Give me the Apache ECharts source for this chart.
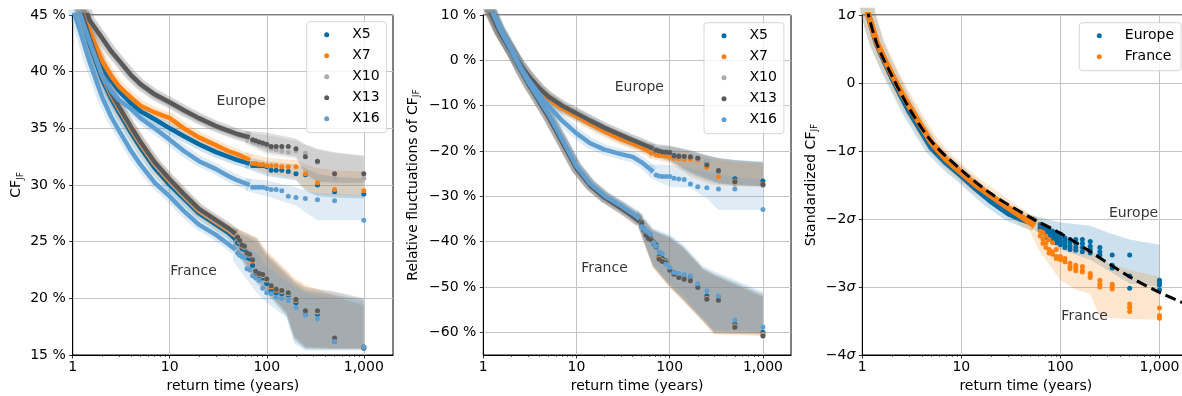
<!DOCTYPE html>
<html>
<head>
<meta charset="utf-8">
<script src="https://cdn.jsdelivr.net/npm/echarts@6/dist/echarts.min.js"></script>
<style>html,body{margin:0;padding:0;background:#fff}#chart{width:1182px;height:396px}</style>
</head>
<body>
<div id="chart"></div>
<script>
const FONT = 'DejaVu Sans';
const models = ['X5', 'X7', 'X10', 'X13', 'X16'];
const modelColors = ['#006BA4', '#FF800E', '#ABABAB', '#595959', '#5F9ED1'];
const xTicks = [1, 10, 100, 1000];
const xMinorTicks = [2, 3, 4, 5, 6, 7, 8, 9, 20, 30, 40, 50, 60, 70, 80, 90, 200, 300, 400, 500, 600, 700, 800, 900];
const yTicksRel = [-60, -50, -40, -30, -20, -10, 0, 10];

// return times (years): dense start of each curve, then single-year tail points
const tDenseEu = [1, 1.2, 1.5, 2, 2.5, 3, 4, 5, 7, 10, 14, 20, 30, 40, 50, 66.7];
const tDenseFr = [1, 1.2, 1.5, 2, 2.5, 3, 4, 5, 7, 10, 14, 20, 30, 40, 47.6];
const tTailEu = [71.4, 76.9, 83.3, 90.9, 100, 111.1, 125, 142.9, 166.7, 200, 250, 333.3, 500, 1000];
const tTailFr = [50, 52.6, 55.6, 58.8, 62.5, 66.7, 71.4, 76.9, 83.3, 90.9, 100, 111.1, 125, 142.9, 166.7, 200, 250, 333.3, 500, 1000];
const tBandEu = [60, 100, 200, 250, 333.3, 500, 1000];
const tBandFr = [45, 79, 100, 160, 192, 250, 500, 1000];

// ---- left panel: CF_JF in %
const cfEuX5 = [48, 46, 43.3, 40.6, 39.2, 38.3, 37.2, 36.5, 35.8, 35.0, 34.3, 33.6, 32.9, 32.5, 32.2, 31.9];
const cfEuX7 = [48, 46, 43.5, 41.0, 39.6, 38.7, 37.7, 37.0, 36.4, 35.9, 35.0, 34.2, 33.5, 33.0, 32.7, 32.2];
const cfEuX10 = [49, 46.8, 44.4, 42.9, 41.7, 40.9, 39.6, 38.8, 37.9, 37.2, 36.5, 35.8, 35.1, 34.7, 34.4, 34.1];
const cfEuX13 = [49, 47, 44.5, 43.0, 41.8, 41.0, 39.7, 38.9, 38.0, 37.3, 36.6, 35.9, 35.2, 34.8, 34.5, 34.2];
const cfEuX16 = [47, 45, 42.6, 39.7, 38.3, 37.5, 36.7, 35.9, 35.0, 34.0, 33.0, 32.1, 31.4, 30.8, 30.4, 30.0];
const cfEuTailX5 = [31.7, 31.7, 31.7, 31.7, 31.6, 31.3, 31.3, 31.3, 31.2, 31.0, 30.9, 30.0, 29.4, 29.2];
const cfEuTailX7 = [31.9, 31.9, 31.8, 31.8, 31.7, 31.7, 31.7, 31.6, 31.6, 31.6, 31.0, 30.2, 29.6, 29.5];
const cfEuTailX10 = [33.8, 33.7, 33.6, 33.5, 33.4, 33.2, 33.1, 33.0, 32.9, 33.0, 32.8, 32.0, 30.6, 30.6];
const cfEuTailX13 = [34.0, 33.9, 33.8, 33.7, 33.6, 33.4, 33.4, 33.4, 33.4, 33.2, 32.5, 32.1, 31.0, 31.0];
const cfEuTailX16 = [29.8, 29.8, 29.8, 29.8, 29.7, 29.6, 29.6, 29.5, 29.0, 28.9, 28.8, 28.7, 28.6, 26.9];
const cfFrX5 = [48, 45.2, 42.4, 39.4, 37.6, 36.4, 34.6, 33.3, 31.5, 30.0, 28.8, 27.5, 26.5, 25.8, 25.2];
const cfFrX7 = [48, 45.4, 42.7, 39.7, 37.9, 36.7, 34.9, 33.6, 31.8, 30.3, 29.0, 27.7, 26.7, 26.0, 25.5];
const cfFrX10 = [48, 45.5, 42.8, 39.8, 38.0, 36.8, 35.0, 33.7, 31.9, 30.4, 29.1, 27.8, 26.8, 26.1, 25.6];
const cfFrX13 = [48.2, 45.6, 42.9, 39.9, 38.1, 36.9, 35.1, 33.8, 32.0, 30.5, 29.2, 27.9, 26.9, 26.2, 25.7];
const cfFrX16 = [45.6, 43.5, 40.8, 37.8, 36.0, 34.8, 33.0, 31.8, 30.2, 29.0, 27.7, 26.5, 25.6, 24.8, 24.3];
const cfFrTailX5 = [24.9, 24.8, 24.4, 24.3, 23.6, 23.5, 22.9, 22.2, 21.9, 21.8, 21.3, 20.7, 20.5, 20.4, 20.3, 19.6, 18.6, 18.6, 16.2, 15.6];
const cfFrTailX7 = [25.4, 25.0, 24.6, 24.5, 23.9, 23.8, 23.3, 22.3, 22.1, 22.0, 21.7, 21.0, 20.7, 20.6, 20.4, 19.8, 18.8, 18.8, 16.4, 15.7];
const cfFrTailX10 = [25.4, 25.0, 24.7, 24.5, 24.0, 23.8, 23.4, 22.4, 22.2, 22.0, 21.6, 21.1, 20.8, 20.6, 20.4, 19.9, 18.9, 18.8, 16.5, 15.7];
const cfFrTailX13 = [25.4, 25.1, 24.7, 24.6, 24.0, 23.9, 23.4, 22.4, 22.2, 22.1, 21.7, 21.1, 20.8, 20.7, 20.5, 19.9, 18.9, 18.9, 16.5, 15.7];
const cfFrTailX16 = [24.0, 23.8, 23.7, 23.6, 22.6, 22.5, 22.0, 21.8, 21.6, 20.9, 20.5, 20.4, 20.1, 20.0, 19.8, 19.2, 18.5, 18.2, 16.2, 15.7];
// spread between members (lower / upper edge)
const cfBandEuLoX5 = [31.5, 30.8, 30.4, 29.5, 29.0, 28.9, 28.8];
const cfBandEuHiX5 = [32.5, 32.1, 31.8, 31.5, 31.0, 30.7, 30.6];
const cfBandEuLoX7 = [31.9, 31.0, 30.6, 29.6, 29.2, 29.1, 29.0];
const cfBandEuHiX7 = [32.9, 32.4, 32.2, 31.8, 31.5, 31.3, 31.2];
const cfBandEuLoX10 = [33.6, 32.7, 32.3, 30.8, 30.1, 30.0, 30.0];
const cfBandEuHiX10 = [34.6, 34.4, 33.9, 33.5, 33.1, 32.8, 32.5];
const cfBandEuLoX13 = [33.8, 32.9, 32.5, 31.0, 30.3, 30.2, 30.2];
const cfBandEuHiX13 = [34.8, 34.6, 34.1, 33.6, 33.2, 32.9, 32.6];
const cfBandEuLoX16 = [29.5, 29.0, 28.2, 27.6, 26.9, 26.9, 26.9];
const cfBandEuHiX16 = [30.6, 30.4, 29.8, 29.5, 29.3, 29.2, 29.1];
const cfBandFrLoX5 = [24.4, 21.3, 20.4, 18.4, 16.3, 15.5, 15.5, 15.5];
const cfBandFrHiX5 = [26.0, 25.0, 23.7, 22.0, 21.3, 20.7, 20.3, 19.8];
const cfBandFrLoX7 = [24.6, 21.5, 20.6, 18.6, 16.5, 15.6, 15.5, 15.5];
const cfBandFrHiX7 = [26.3, 25.4, 24.2, 22.5, 21.8, 21.2, 20.2, 19.3];
const cfBandFrLoX10 = [24.7, 21.7, 20.8, 18.8, 16.7, 15.7, 15.6, 15.6];
const cfBandFrHiX10 = [26.2, 25.2, 23.9, 22.2, 21.5, 20.9, 20.5, 19.9];
const cfBandFrLoX13 = [24.7, 21.6, 20.7, 18.7, 16.6, 15.7, 15.6, 15.6];
const cfBandFrHiX13 = [26.3, 25.3, 24.0, 22.3, 21.6, 21.0, 20.6, 20.0];
const cfBandFrLoX16 = [23.3, 20.5, 19.6, 18.3, 16.0, 15.4, 15.4, 15.4];
const cfBandFrHiX16 = [25.2, 24.0, 22.8, 21.5, 21.0, 20.5, 20.0, 19.5];

// ---- middle panel: relative fluctuations in %
const tBandRelEu = [60, 100, 165, 250, 333.3, 500, 1000];
const tBandRelFr = [45, 66, 100, 140, 228, 300, 1000];
const relEuX5 = [14, 10.4, 6.2, 2.0, -1.1, -3.3, -6.4, -8.3, -10.4, -12.0, -13.6, -15.3, -17.0, -18.0, -18.8, -20.0];
const relEuX7 = [14, 10.4, 6.2, 2.0, -1.2, -3.5, -6.6, -8.5, -10.6, -12.3, -14.0, -15.7, -17.4, -18.4, -19.2, -20.6];
const relEuX10 = [14, 10.5, 6.3, 2.0, -1.0, -3.2, -6.2, -8.0, -10.0, -11.7, -13.3, -14.9, -16.5, -17.6, -18.4, -19.6];
const relEuX13 = [14, 10.5, 6.3, 2.0, -1.0, -3.2, -6.2, -8.0, -10.0, -11.7, -13.3, -14.9, -16.5, -17.6, -18.4, -19.5];
const relEuX16 = [15, 11.5, 7.0, 2.3, -1.5, -4.0, -7.5, -10.0, -13.3, -16.1, -18.3, -19.7, -20.7, -21.3, -22.5, -24.6];
const relEuTailX5 = [-20.3, -20.3, -20.3, -20.3, -20.4, -21.0, -21.1, -21.2, -21.3, -21.6, -22.4, -24.4, -26.1, -26.6];
const relEuTailX7 = [-20.9, -21.0, -21.0, -21.1, -21.3, -21.6, -21.7, -21.8, -21.8, -22.0, -23.6, -25.7, -26.6, -27.3];
const relEuTailX10 = [-19.9, -20.1, -20.3, -20.4, -20.5, -21.2, -21.3, -21.3, -21.4, -21.7, -22.3, -24.3, -27.3, -27.6];
const relEuTailX13 = [-19.8, -20.0, -20.2, -20.3, -20.4, -21.1, -21.2, -21.2, -21.3, -21.6, -23.1, -24.3, -26.8, -27.4];
const relEuTailX16 = [-25.3, -25.5, -25.6, -25.6, -25.6, -26.0, -26.2, -26.3, -27.3, -27.9, -28.1, -28.4, -28.4, -32.9];
const relFrX5 = [15, 11, 6.5, 2.0, -2.0, -4.9, -9.0, -12.3, -17.8, -23.7, -27.4, -30.1, -32.3, -34.0, -35.2];
const relFrX7 = [15, 11, 6.5, 2.0, -2.0, -5.0, -9.1, -12.4, -17.9, -23.8, -27.5, -30.2, -32.4, -34.2, -35.4];
const relFrX10 = [15, 11, 6.5, 2.0, -2.0, -5.0, -9.2, -12.5, -18.0, -23.9, -27.6, -30.3, -32.6, -34.4, -35.6];
const relFrX13 = [15, 11, 6.5, 2.0, -2.0, -5.0, -9.2, -12.5, -18.0, -23.9, -27.6, -30.3, -32.6, -34.4, -35.6];
const relFrX16 = [15.5, 11.5, 7.0, 2.3, -1.7, -4.6, -8.7, -11.9, -17.4, -23.4, -27.2, -29.9, -32.1, -33.8, -35.0];
const relFrTailX5 = [-35.7, -37.1, -38.2, -38.9, -39.2, -40.0, -40.7, -43.3, -43.7, -44.2, -45.9, -46.8, -47.5, -47.9, -48.2, -49.8, -52.0, -52.3, -58.2, -60.0];
const relFrTailX7 = [-35.9, -37.3, -38.4, -39.1, -39.4, -40.2, -41.0, -43.6, -44.1, -44.4, -46.1, -47.0, -47.7, -48.1, -48.4, -49.9, -52.5, -52.6, -58.6, -60.4];
const relFrTailX10 = [-36.0, -37.4, -38.5, -39.2, -39.5, -40.3, -41.1, -43.8, -44.3, -44.5, -46.2, -47.1, -47.8, -48.2, -48.5, -50.0, -52.6, -52.8, -58.8, -60.6];
const relFrTailX13 = [-36.0, -37.5, -38.6, -39.3, -39.6, -40.4, -41.2, -43.9, -44.4, -44.6, -46.3, -47.2, -47.9, -48.3, -48.6, -50.1, -52.7, -52.9, -58.9, -60.8];
const relFrTailX16 = [-36.7, -37.2, -37.6, -38.0, -38.3, -40.3, -41.0, -42.2, -42.6, -45.0, -45.7, -46.8, -47.0, -47.2, -47.5, -49.3, -50.9, -52.0, -57.3, -58.8];
const relBandEuLoX5 = [-21.0, -22.3, -25.0, -26.5, -27.2, -27.5, -27.7];
const relBandEuHiX5 = [-18.9, -19.0, -20.0, -21.0, -21.6, -22.0, -22.3];
const relBandEuLoX7 = [-21.6, -22.7, -25.7, -27.1, -27.6, -27.8, -27.9];
const relBandEuHiX7 = [-19.4, -19.6, -20.4, -21.4, -22.0, -22.4, -22.7];
const relBandEuLoX10 = [-20.5, -22.2, -24.8, -26.3, -27.2, -27.6, -27.9];
const relBandEuHiX10 = [-18.4, -18.9, -19.9, -21.0, -21.6, -22.1, -22.6];
const relBandEuLoX13 = [-20.5, -22.0, -24.5, -26.0, -27.0, -27.5, -27.8];
const relBandEuHiX13 = [-18.3, -18.8, -19.8, -20.9, -21.5, -22.0, -22.5];
const relBandEuLoX16 = [-25.8, -27.9, -28.1, -30.5, -33.0, -33.0, -33.0];
const relBandEuHiX16 = [-23.0, -23.1, -23.8, -24.5, -25.0, -25.8, -26.4];
const relBandFrLoX5 = [-36.0, -45.3, -49.6, -52.6, -57.2, -59.8, -60.2];
const relBandFrHiX5 = [-33.2, -37.3, -38.8, -41.0, -45.8, -47.0, -51.5];
const relBandFrLoX7 = [-36.4, -45.8, -50.2, -53.2, -57.8, -60.5, -60.8];
const relBandFrHiX7 = [-33.4, -37.5, -39.0, -41.3, -46.0, -47.2, -51.8];
const relBandFrLoX10 = [-36.3, -45.6, -50.0, -53.0, -57.6, -60.3, -60.5];
const relBandFrHiX10 = [-33.5, -37.6, -39.1, -41.4, -46.1, -47.4, -52.0];
const relBandFrLoX13 = [-36.2, -45.5, -49.9, -52.9, -57.5, -60.2, -60.4];
const relBandFrHiX13 = [-33.5, -37.6, -39.2, -41.5, -46.2, -47.5, -52.2];
const relBandFrLoX16 = [-35.9, -44.8, -49.0, -52.0, -56.8, -59.5, -59.8];
const relBandFrHiX16 = [-32.8, -37.0, -38.4, -40.6, -45.3, -46.5, -51.0];

// ---- right panel: standardized CF_JF (sigma)
const tDenseStd = [1, 1.15, 1.4, 1.7, 2, 2.5, 3, 4, 5, 7, 10, 14, 20, 30, 40, 55];
const stdEu = [1.6, 1.0, 0.58, 0.3, 0.08, -0.2, -0.42, -0.72, -0.95, -1.17, -1.36, -1.55, -1.74, -1.92, -2.0, -2.07];
const stdFr = [1.6, 1.0, 0.6, 0.33, 0.12, -0.15, -0.35, -0.65, -0.88, -1.12, -1.32, -1.5, -1.66, -1.84, -1.96, -2.1];
const stdEuTailT = [62.5, 62.5, 62.5, 66.7, 66.7, 66.7, 71.4, 71.4, 71.4, 71.4, 76.9, 76.9, 76.9, 76.9, 83.3, 83.3, 83.3, 83.3,
  90.9, 90.9, 90.9, 90.9, 100, 100, 100, 100, 111.1, 111.1, 111.1, 111.1, 125, 125, 125, 125, 142.9, 142.9, 142.9, 142.9,
  166.7, 166.7, 166.7, 166.7, 200, 200, 200, 200, 250, 250, 250, 333.3, 333.3, 333.3, 500, 500, 500, 1000, 1000, 1000, 1000];
const stdEuTailV = [-2.08, -2.12, -2.15, -2.1, -2.15, -2.2, -2.12, -2.17, -2.22, -2.27, -2.15, -2.2, -2.25, -2.3, -2.18, -2.22, -2.28, -2.33,
  -2.2, -2.25, -2.3, -2.35, -2.22, -2.28, -2.33, -2.38, -2.28, -2.33, -2.38, -2.42, -2.3, -2.35, -2.4, -2.45, -2.3, -2.36, -2.42, -2.46,
  -2.3, -2.36, -2.42, -2.48, -2.33, -2.4, -2.45, -2.5, -2.42, -2.48, -2.53, -2.53, -2.68, -2.72, -2.53, -2.84, -3.02, -2.9, -2.94, -2.97, -3.04];
const stdFrTailT = [62.5, 62.5, 66.7, 66.7, 66.7, 71.4, 71.4, 71.4, 76.9, 76.9, 76.9, 83.3, 83.3, 83.3, 90.9, 90.9, 90.9, 100, 100,
  111.1, 111.1, 125, 125, 125, 142.9, 142.9, 142.9, 166.7, 166.7, 166.7, 200, 200, 200, 250, 250, 250, 333.3, 333.3, 333.3,
  500, 500, 500, 1000, 1000, 1000];
const stdFrTailV = [-2.18, -2.25, -2.2, -2.3, -2.36, -2.25, -2.35, -2.42, -2.3, -2.45, -2.5, -2.35, -2.48, -2.52, -2.45, -2.55, -2.58, -2.55, -2.6,
  -2.58, -2.63, -2.65, -2.7, -2.73, -2.68, -2.72, -2.76, -2.7, -2.75, -2.78, -2.8, -2.83, -2.86, -2.9, -2.96, -3.0, -2.96, -2.99, -3.03,
  -3.25, -3.3, -3.36, -3.31, -3.42, -3.46];
const tBandStdEu = [50, 60, 100, 200, 300, 500, 1000];
const stdBandEuLo = [-2.12, -2.2, -2.45, -2.6, -2.75, -2.95, -3.0];
const stdBandEuHi = [-1.95, -1.97, -2.05, -2.1, -2.2, -2.3, -2.38];
const tBandStdFr = [50, 60, 100, 150, 200, 250, 500, 1000];
const stdBandFrLo = [-2.2, -2.45, -2.9, -3.05, -3.1, -3.45, -3.47, -3.48];
const stdBandFrHi = [-1.95, -2.0, -2.2, -2.35, -2.45, -2.6, -2.75, -2.85];
const fitT = [1.1, 1.4, 2, 3, 5, 10, 20, 50, 100, 200, 500, 1000, 2000];
const fitV = [1.12, 0.58, 0.1, -0.38, -0.86, -1.28, -1.63, -1.98, -2.21, -2.48, -2.85, -3.08, -3.27];

// text annotations: [text, return time, value]
const notesCf = [['Europe', 30, 37.4], ['France', 10, 22.4]];
const notesRel = [['Europe', 25.4, -5.9], ['France', 11.1, -45.9]];
const notesStd = [['Europe', 305, -1.92], ['France', 101, -3.43]];

const cfEuDense = [cfEuX5, cfEuX7, cfEuX10, cfEuX13, cfEuX16];
const cfEuTail = [cfEuTailX5, cfEuTailX7, cfEuTailX10, cfEuTailX13, cfEuTailX16];
const cfFrDense = [cfFrX5, cfFrX7, cfFrX10, cfFrX13, cfFrX16];
const cfFrTail = [cfFrTailX5, cfFrTailX7, cfFrTailX10, cfFrTailX13, cfFrTailX16];
const cfBandEu = [[cfBandEuLoX5, cfBandEuHiX5], [cfBandEuLoX7, cfBandEuHiX7], [cfBandEuLoX10, cfBandEuHiX10], [cfBandEuLoX13, cfBandEuHiX13], [cfBandEuLoX16, cfBandEuHiX16]];
const cfBandFr = [[cfBandFrLoX5, cfBandFrHiX5], [cfBandFrLoX7, cfBandFrHiX7], [cfBandFrLoX10, cfBandFrHiX10], [cfBandFrLoX13, cfBandFrHiX13], [cfBandFrLoX16, cfBandFrHiX16]];
const relEuDense = [relEuX5, relEuX7, relEuX10, relEuX13, relEuX16];
const relEuTail = [relEuTailX5, relEuTailX7, relEuTailX10, relEuTailX13, relEuTailX16];
const relFrDense = [relFrX5, relFrX7, relFrX10, relFrX13, relFrX16];
const relFrTail = [relFrTailX5, relFrTailX7, relFrTailX10, relFrTailX13, relFrTailX16];
const relBandEu = [[relBandEuLoX5, relBandEuHiX5], [relBandEuLoX7, relBandEuHiX7], [relBandEuLoX10, relBandEuHiX10], [relBandEuLoX13, relBandEuHiX13], [relBandEuLoX16, relBandEuHiX16]];
const relBandFr = [[relBandFrLoX5, relBandFrHiX5], [relBandFrLoX7, relBandFrHiX7], [relBandFrLoX10, relBandFrHiX10], [relBandFrLoX13, relBandFrHiX13], [relBandFrLoX16, relBandFrHiX16]];

const series = [];
const pts = (ts, vs) => ts.map((t, i) => [t, vs[i]]);

// spread band: polygon through the upper edge and back along the lower edge
function addBand(g, key, color, ts, lo, hi) {
  series.push({
    type: 'custom', name: key, xAxisIndex: g, yAxisIndex: g, silent: true, z: 1,
    data: [[ts[0], lo[0]]],
    renderItem: (params, api) => {
      const up = ts.map((t, i) => api.coord([t, hi[i]]));
      const down = ts.map((t, i) => api.coord([t, lo[i]])).reverse();
      const cs = params.coordSys;
      return {
        type: 'polygon',
        shape: { points: up.concat(down) },
        style: { fill: color, opacity: 0.2 },
        clipPath: { type: 'rect', shape: { x: cs.x, y: cs.y, width: cs.width, height: cs.height } },
      };
    },
  });
}

function addCurve(g, name, color, tD, vD, tT, vT, w, dot) {
  series.push({
    type: 'line', name: name + '-spread', xAxisIndex: g, yAxisIndex: g, data: pts(tD, vD),
    symbol: 'none', silent: true, z: 1, lineStyle: { color: color, width: w * 2.4, opacity: 0.2 },
  });
  series.push({
    type: 'line', name: name + '-line', xAxisIndex: g, yAxisIndex: g, data: pts(tD, vD),
    symbol: 'none', silent: true, z: 3, lineStyle: { color: color, width: w }, itemStyle: { color: color },
  });
  series.push({
    type: 'scatter', name: name, xAxisIndex: g, yAxisIndex: g, data: pts(tT, vT),
    symbolSize: dot, silent: true, z: 3, itemStyle: { color: color, opacity: 1 },
  });
}

function addNotes(g, notes) {
  series.push({
    type: 'scatter', name: 'note' + g, xAxisIndex: g, yAxisIndex: g, symbolSize: 1, silent: true, z: 6,
    itemStyle: { color: 'rgba(0,0,0,0)' },
    label: { show: true, position: 'right', distance: 0, formatter: '{b}', fontFamily: FONT, fontSize: 14, color: '#000' },
    data: notes.map((n) => ({ name: n[0], value: [n[1], n[2]] })),
  });
}

models.forEach((m, i) => {
  addBand(0, 'cfEu' + m, modelColors[i], tBandEu, cfBandEu[i][0], cfBandEu[i][1]);
  addBand(0, 'cfFr' + m, modelColors[i], tBandFr, cfBandFr[i][0], cfBandFr[i][1]);
  addBand(1, 'relEu' + m, modelColors[i], tBandRelEu, relBandEu[i][0], relBandEu[i][1]);
  addBand(1, 'relFr' + m, modelColors[i], tBandRelFr, relBandFr[i][0], relBandFr[i][1]);
});
addBand(2, 'stdEu', modelColors[0], tBandStdEu, stdBandEuLo, stdBandEuHi);
addBand(2, 'stdFr', modelColors[1], tBandStdFr, stdBandFrLo, stdBandFrHi);

models.forEach((m, i) => {
  addCurve(0, m, modelColors[i], tDenseEu, cfEuDense[i], tTailEu, cfEuTail[i], 4.5, 5);
  addCurve(0, m, modelColors[i], tDenseFr, cfFrDense[i], tTailFr, cfFrTail[i], 4.5, 5);
  addCurve(1, m, modelColors[i], tDenseEu, relEuDense[i], tTailEu, relEuTail[i], 4.5, 5);
  addCurve(1, m, modelColors[i], tDenseFr, relFrDense[i], tTailFr, relFrTail[i], 4.5, 5);
});
addCurve(2, 'Europe', modelColors[0], tDenseStd, stdEu, stdEuTailT, stdEuTailV, 6, 5);
addCurve(2, 'France', modelColors[1], tDenseStd, stdFr, stdFrTailT, stdFrTailV, 6, 5);
series.push({
  type: 'line', name: 'fit', xAxisIndex: 2, yAxisIndex: 2, data: pts(fitT, fitV), smooth: 0.3,
  symbol: 'none', silent: true, z: 5, lineStyle: { color: '#000', width: 3, type: [11, 5] },
});
addNotes(0, notesCf);
addNotes(1, notesRel);
addNotes(2, notesStd);

const txt = { fontFamily: FONT, fontSize: 14, color: '#000' };
const subRich = { s: { fontFamily: FONT, fontSize: 9, color: '#000', padding: [7, 0, 0, 0] } };
const minus = (v) => (v < 0 ? '\u2212' + Math.abs(v) : String(v));

function xAxis(g) {
  return {
    type: 'log', logBase: 10, gridIndex: g, min: 1, max: 2000, position: 'bottom',
    name: 'return time (years)', nameLocation: 'middle', nameGap: 20, nameTextStyle: txt,
    axisLine: { show: true, onZero: false, lineStyle: { color: '#000', width: 1 } },
    axisTick: { show: true, length: 3.5, lineStyle: { color: '#000', width: 0.8 }, customValues: xTicks },
    axisLabel: Object.assign({ customValues: xTicks, margin: 5, formatter: (v) => (v >= 1000 ? '1,000' : String(v)) }, txt),
    splitLine: { show: true, lineStyle: { color: '#c4c4c4', width: 1 } },
  };
}

// second bottom axis on the same grid, carrying only the short minor ticks
function xMinorAxis(g) {
  return {
    type: 'log', logBase: 10, gridIndex: g, min: 1, max: 2000, position: 'bottom', offset: 0,
    axisLine: { show: false, onZero: false },
    axisTick: { show: true, length: 2, lineStyle: { color: '#000', width: 0.6 }, customValues: xMinorTicks },
    axisLabel: { show: false },
    splitLine: { show: false },
  };
}

function yAxis(g, extra) {
  return Object.assign({
    type: 'value', gridIndex: g, nameLocation: 'middle', nameRotate: 90,
    axisLine: { show: true, onZero: false, lineStyle: { color: '#000', width: 1 } },
    splitLine: { show: true, lineStyle: { color: '#c4c4c4', width: 1 } },
  }, extra);
}

const legendBase = {
  orient: 'vertical', icon: 'circle', itemWidth: 5, itemHeight: 5, itemGap: 5,
  padding: [5, 7, 6, 17.5], borderColor: '#d6d6d6', borderWidth: 1, borderRadius: 3,
  backgroundColor: 'rgba(255,255,255,0.8)', selectedMode: false,
  formatter: '{a|{name}}',
  textStyle: { fontFamily: FONT, fontSize: 14, color: '#000', lineHeight: 16,
    rich: { a: { fontFamily: FONT, fontSize: 14, color: '#000', lineHeight: 16, padding: [0, 0, 0, 18] } } },
};

const gridBase = { top: 15, height: 340, show: true, borderColor: '#000', borderWidth: 1, backgroundColor: 'transparent', outerBoundsMode: 'none', containLabel: false };

const option = {
  animation: false,
  backgroundColor: '#fff',
  textStyle: { fontFamily: FONT },
  grid: [
    Object.assign({ left: 72.7, width: 320.3 }, gridBase),
    Object.assign({ left: 483.3, width: 307.7 }, gridBase),
    Object.assign({ left: 862.3, width: 327 }, gridBase),
  ],
  legend: [
    Object.assign({ left: 306.7, top: 21.7, data: models }, legendBase),
    Object.assign({ left: 704, top: 22.7, data: models }, legendBase),
    Object.assign({ left: 1079.3, top: 22.7, data: ['Europe', 'France'] }, legendBase),
  ],
  xAxis: [xAxis(0), xAxis(1), xAxis(2), xMinorAxis(0), xMinorAxis(1), xMinorAxis(2)],
  yAxis: [
    yAxis(0, {
      min: 15, max: 45, interval: 5,
      name: 'CF{s|JF}', nameGap: 48, nameTextStyle: Object.assign({ rich: subRich }, txt),
      axisTick: { length: 3.5, lineStyle: { color: '#000', width: 0.8 } },
      axisLabel: Object.assign({ margin: 7, formatter: (v) => v + ' %' }, txt),
    }),
    yAxis(1, {
      min: -65, max: 10,
      name: 'Relative fluctuations of CF{s|JF}', nameGap: 62, nameTextStyle: Object.assign({ rich: subRich }, txt),
      axisTick: { length: 3.5, lineStyle: { color: '#000', width: 0.8 }, customValues: yTicksRel },
      axisLabel: Object.assign({ margin: 7, customValues: yTicksRel, formatter: (v) => minus(v) + ' %' }, txt),
    }),
    yAxis(2, {
      min: -4, max: 1, interval: 1,
      name: 'Standardized CF{s|JF}', nameGap: 43, nameTextStyle: Object.assign({ rich: subRich }, txt),
      axisTick: { length: 3.5, lineStyle: { color: '#000', width: 0.8 } },
      axisLabel: Object.assign({
        margin: 7,
        formatter: (v) => (v === 0 ? '0' : minus(v) + '{s|\u03c3}'),
        rich: { s: { fontFamily: FONT, fontSize: 14, fontStyle: 'italic', color: '#000' } },
      }, txt),
    }),
  ],
  series: series,
};

const chart = echarts.init(document.getElementById('chart'), null, { renderer: 'canvas' });
chart.setOption(option);
</script>
</body>
</html>
